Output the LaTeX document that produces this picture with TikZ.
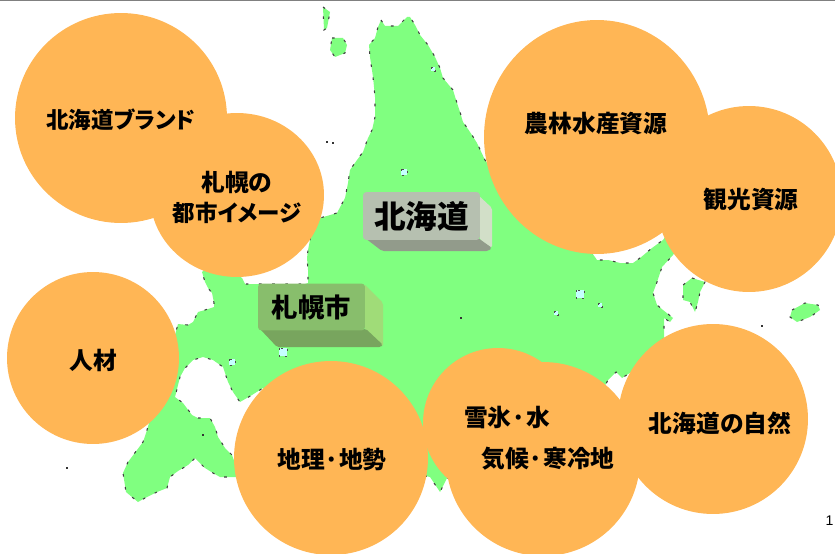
\documentclass[tikz,border=0pt]{standalone}
\usepackage{fontspec}
\setmainfont{Noto Sans CJK JP}[BoldFont={Noto Sans CJK JP Black}]
\newfontfamily\pagefont{Liberation Sans}
\usepackage{xcolor}
\usetikzlibrary{positioning, shapes.geometric}
\definecolor{landgreen}{HTML}{80FF80}
\definecolor{bubbleorange}{HTML}{FFB655}
\definecolor{lakeblue}{HTML}{C4FFFF}
\definecolor{greyfront}{HTML}{B6C0B0}
\definecolor{greyside}{HTML}{D2DFC8}
\definecolor{greylow}{HTML}{929B8B}
\definecolor{greenfront}{HTML}{88BE6C}
\definecolor{greenside}{HTML}{A0DC78}
\definecolor{greenlow}{HTML}{78A55E}

\begin{document}
\begin{tikzpicture}[x=0.02cm, y=-0.02cm,
    bubble/.style={ellipse, fill=bubbleorange, inner sep=0pt},
    bubbletext/.style={font=\fontsize{13.5}{17}\selectfont\bfseries, align=center},
    coast/.style={fill=landgreen, draw=black!75, line width=0.6pt, dash pattern=on 1.5pt off 6pt},
    lake/.style={fill=lakeblue, draw=black!70, line width=0.5pt, dash pattern=on 1pt off 3pt},
    speck/.style={fill=black!80, inner sep=0pt, minimum size=1.6pt, rectangle}]

    \useasboundingbox (0,0) rectangle (835,554);
    \draw [black!50, line width=0.5pt] (0,0.5) -- (835,0.5);

    % Main island
    \draw [coast] (381,20) -- (385,26) -- (398,26) -- (407,17) -- (410,17) -- (415,25) -- (420,35)
      -- (428,45) -- (435,57) -- (440,68) -- (443,78) -- (453,90) -- (457,103) -- (460,112)
      -- (463,122) -- (470,132) -- (477,143) -- (485,160) -- (520,210) -- (590,250) -- (597,260)
      -- (608,260) -- (620,263) -- (633,263) -- (640,258) -- (652,248) -- (663,240) -- (670,230)
      -- (680,245) -- (673,255) -- (662,267) -- (657,282) -- (653,293) -- (657,305) -- (663,310)
      -- (673,318) -- (670,322) -- (664,318) -- (664,338) -- (650,360) -- (622,378) -- (616,372)
      -- (608,380) -- (600,395) -- (500,480) -- (447,478) -- (440,492) -- (430,477) -- (400,470)
      -- (300,440) -- (263,388) -- (252,395) -- (240,402) -- (233,392) -- (228,382) -- (223,367)
      -- (213,360) -- (203,357) -- (193,360) -- (185,368) -- (180,377) -- (175,397) -- (183,403)
      -- (192,415) -- (198,418) -- (210,418) -- (215,427) -- (218,437) -- (225,448) -- (232,455)
      -- (240,477) -- (220,477) -- (213,473) -- (205,468) -- (195,458) -- (188,465) -- (178,471)
      -- (170,477) -- (167,488) -- (157,492) -- (145,498) -- (138,502) -- (132,497) -- (126,492)
      -- (123,473) -- (128,462) -- (143,442) -- (147,430) -- (149,423) -- (160,390) -- (178,324)
      -- (188,325) -- (193,322) -- (198,312) -- (205,310) -- (214,307) -- (214,303) -- (212,293)
      -- (208,288) -- (205,282) -- (202,272) -- (215,260) -- (242,278) -- (245,284) -- (257,284)
      -- (305,284) -- (308,283) -- (308,270) -- (307,258) -- (308,250) -- (312,230) -- (320,218)
      -- (337,213) -- (345,198) -- (348,183) -- (350,170) -- (357,160) -- (363,152) -- (368,138)
      -- (372,130) -- (375,117) -- (375,97) -- (373,77) -- (370,57) -- (369,45) -- (375,38)
      -- (378,27) -- cycle;

    % Small islands
    \draw [coast] (323,7) -- (330,12) -- (327,28) -- (324,30) -- cycle;
    \draw [coast] (332,38) -- (343,38) -- (347,45) -- (345,53) -- (335,57) -- (330,50) -- cycle;
    \draw [coast] (692,278) -- (705,282) -- (700,292) -- (698,302) -- (695,312) -- (690,302)
      -- (683,300) -- (683,285) -- cycle;
    \draw [coast] (792,310) -- (805,303) -- (818,305) -- (820,310) -- (810,317) -- (797,322)
      -- (790,317) -- cycle;

    % Lakes
    \foreach \lx/\ly/\lw in {404/172/3, 433/69/2, 283/352/4, 232/362/3, 580/294/4, 600/305/2, 556/313/2}
      \draw [lake] (\lx-\lw,\ly-\lw) rectangle (\lx+\lw,\ly+\lw);

    % Specks
    \foreach \sx/\sy [count=\si] in {327/142, 333/143, 67/468, 762/326, 461/318, 203/435}
      \node [speck] (speck\si) at (\sx,\sy) {};

    % Bubbles
    \node [bubble, minimum width=4.24cm, minimum height=4.2cm] (brand) at (121,118) {};
    \node [bubble, minimum width=3.48cm, minimum height=3.28cm] (image) at (237,195) {};
    \node [bubble, minimum size=3.44cm] (jinzai) at (93,358) {};
    \node [bubble, minimum size=3.88cm] (chiri) at (331,458) {};
    \node [bubble, minimum size=3.0cm] (yuki) at (498,423) {};
    \node [bubble, minimum size=3.88cm] (kiko) at (543,459) {};
    \node [bubble, minimum size=3.8cm] (shizen) at (713,419) {};
    \node [bubble, minimum width=4.52cm, minimum height=4.68cm] (nourin) at (597,137) {};
    \node [bubble, minimum size=3.72cm] (kanko) at (749,199) {};

    % Bubble labels
    \node [bubbletext] (brandtext) at (121,120) {\fontsize{12.8}{17}\selectfont\addfontfeature{RawFeature=+palt}北海道ブランド};
    \node [bubbletext] (imagetext) at (237,197) {札幌の\\\fontsize{12.8}{17}\selectfont\addfontfeature{RawFeature=+palt}都市イメージ};
    \node [bubbletext] (jinzaitext) at (93,360) {人材};
    \node [bubbletext] (chiritext) at (332,460) {地理·地勢};
    \node [bubbletext] (yukitext) at (507,418) {雪氷·水};
    \node [bubbletext] (kikotext) at (548,459) {気候·寒冷地};
    \node [bubbletext] (shizentext) at (720,423) {北海道の自然};
    \node [bubbletext] (nourintext) at (596,124) {農林水産資源};
    \node [bubbletext] (kankotext) at (751,199) {観光資源};

    % Hokkaido block
    \fill [rounded corners=1pt, greyside] (477,194) -- (492,208) -- (492,248) -- (480,240) -- cycle;
    \fill [rounded corners=1pt, greylow] (365,238) -- (382,251) -- (488,251) -- (492,248) -- (478,238) -- cycle;
    \node [rectangle, rounded corners=2pt, fill=greyfront, minimum width=2.34cm, minimum height=0.96cm,
      inner sep=0pt, font=\fontsize{18}{18}\selectfont\bfseries] (hokkaido) at (421.5,216) {北海道};

    % Sapporo block
    \fill [rounded corners=1pt, greenside] (364,284) -- (383,303) -- (383,347) -- (365,330) -- cycle;
    \fill [rounded corners=1pt, greenlow] (260,329) -- (277,347) -- (381,347) -- (383,345) -- (366,329) -- cycle;
    \node [rectangle, rounded corners=2pt, fill=greenfront, minimum width=2.14cm, minimum height=0.94cm,
      inner sep=0pt, font=\fontsize{15}{15}\selectfont\bfseries] (sapporo) at (311.5,307) {札幌市};

    % Page number
    \node [font=\pagefont\fontsize{8}{8}\selectfont] (pagenum) at (829.5,521) {1};
\end{tikzpicture}
\end{document}
